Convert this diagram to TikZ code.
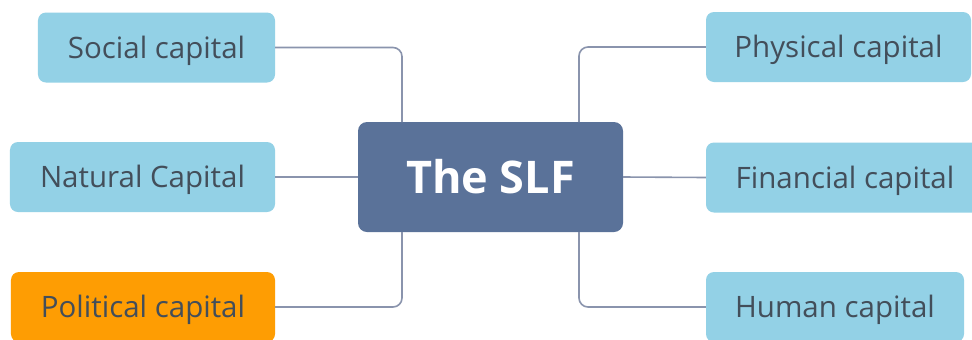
\documentclass[tikz,border=0pt]{standalone}
\usepackage{fontspec}
\setmainfont{Open Sans}
\definecolor{capblue}{HTML}{93D1E6}
\definecolor{caporange}{HTML}{FE9D03}
\definecolor{slfblue}{HTML}{5A7299}
\definecolor{captext}{HTML}{434E5A}
\definecolor{linkgray}{HTML}{8A94AD}
\begin{document}
\begin{tikzpicture}[x=1bp,y=-1bp,
  capbox/.style={draw=none, fill=capblue, rounded corners=8bp, text=captext,
    font=\fontsize{29.5bp}{35bp}\selectfont, text height=21bp, text depth=0pt,
    minimum height=70bp, inner sep=0pt, anchor=center},
  hubbox/.style={fill=slfblue, rounded corners=9bp, text=white,
    font=\fontsize{45bp}{54bp}\selectfont\bfseries, text height=32bp, text depth=0pt,
    minimum width=265bp, minimum height=110bp, inner sep=0pt},
  link/.style={draw=linkgray, line width=1.6bp, rounded corners=9bp}]
\useasboundingbox (0,0) rectangle (972,339);
\fill[white] (0,0) rectangle (972,339);

% hub
\node[hubbox] (slf) at (490.5,177) {The SLF};

% left-hand capitals
\node[capbox, minimum width=237bp] (social) at (156.5,47.5) {Social capital};
\node[capbox, minimum width=265bp] (natural) at (142.5,177) {Natural Capital};
\node[capbox, minimum width=264bp, fill=caporange] (political) at (143,307) {Political capital};

% right-hand capitals
\node[capbox, minimum width=265bp] (physical) at (838.5,47) {Physical capital};
\node[capbox, minimum width=278bp] (financial) at (845,177.5) {Financial capital};
\node[capbox, minimum width=258bp] (human) at (835,307) {Human capital};

% junction points on the hub edges
\coordinate (jtl) at (402,122);
\coordinate (jbl) at (402,232);
\coordinate (jtr) at (579,122);
\coordinate (jbr) at (579,232);

% connectors
\draw[link] (social.east) -| (jtl);
\draw[link] (political.east) -| (jbl);
\draw[link] (physical.west) -| (jtr);
\draw[link] (human.west) -| (jbr);
\draw[link] (natural.east) -- (slf.west);
\draw[link] (financial.west) -- (slf.east);
\end{tikzpicture}
\end{document}
